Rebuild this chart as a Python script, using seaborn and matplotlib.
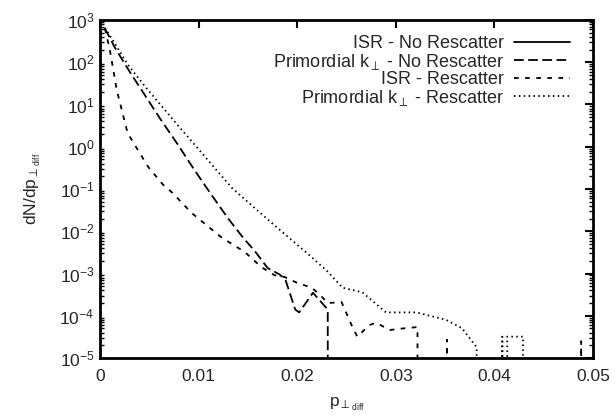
import numpy as np
import pandas as pd
import matplotlib
matplotlib.use("Agg")
import matplotlib.pyplot as plt
import seaborn as sns

# ---- data ----
labels = ["ISR - No Rescatter",
          r"Primordial k$_\perp$ - No Rescatter",
          "ISR - Rescatter",
          r"Primordial k$_\perp$ - Rescatter"]

# ISR - No Rescatter: no visible data in the reference
isr_norescat_x = []
isr_norescat_y = []

prim_norescat_x = [0.0005, 0.0015, 0.003, 0.0046, 0.006, 0.0079, 0.0095, 0.0111,
                   0.013, 0.0145, 0.0157, 0.017, 0.0182, 0.0188, 0.0198, 0.0202,
                   0.0216, 0.0231, 0.0232, 0.05]
prim_norescat_y = [630, 224, 60, 16, 5.0, 1.12, 0.30, 0.085,
                   0.020, 0.0071, 0.0034, 0.00135, 9.5e-4, 7.2e-4, 1.4e-4, 1.2e-4,
                   3.5e-4, 1.4e-4, 0, 0]

isr_rescat_x = [0.0005, 0.001, 0.0017, 0.0028, 0.0049, 0.0064, 0.0073, 0.0093,
                0.0123, 0.0147, 0.0164, 0.0177, 0.0187, 0.02, 0.0215, 0.0225,
                0.0231, 0.0245, 0.0256, 0.0261, 0.0273, 0.028, 0.0294, 0.0307,
                0.0322, 0.0323, 0.0349, 0.0352, 0.0355, 0.0485, 0.0488, 0.049, 0.05]
isr_rescat_y = [630, 195, 22, 2.1, 0.33, 0.126, 0.083, 0.027,
                0.0072, 0.0032, 0.0014, 9.1e-4, 8.3e-4, 6.0e-4, 4.6e-4, 2.8e-4,
                2.0e-4, 2.1e-4, 5.4e-5, 3.2e-5, 6.0e-5, 6.8e-5, 4.6e-5, 5.0e-5,
                5.4e-5, 0, 0, 2.7e-5, 0, 0, 2.5e-5, 0, 0]

prim_rescat_x = [0.0005, 0.0015, 0.0028, 0.0045, 0.0063, 0.008, 0.0096, 0.0116,
                 0.0134, 0.0159, 0.0184, 0.0215, 0.0231, 0.0246, 0.0266, 0.029,
                 0.0321, 0.0351, 0.0367, 0.0382, 0.0383, 0.0398, 0.0408, 0.0411,
                 0.0413, 0.0429, 0.043, 0.05]
prim_rescat_y = [650, 280, 89, 28, 8.9, 3.0, 1.12, 0.32,
                 0.105, 0.032, 0.010, 0.0024, 1.1e-3, 4.6e-4, 3.6e-4, 1.2e-4,
                 1.2e-4, 8.0e-5, 5.1e-5, 1.8e-5, 0, 0, 3.2e-5, 0,
                 3.2e-5, 3.2e-5, 0, 0]

xticks = [0, 0.01, 0.02, 0.03, 0.04, 0.05]
xticklabels = ["0", "0.01", "0.02", "0.03", "0.04", "0.05"]

# ---- style ----
sns.set_style("white")
plt.rcParams["font.family"] = ["Liberation Sans", "DejaVu Sans"]
plt.rcParams["mathtext.fontset"] = "custom"
plt.rcParams["mathtext.rm"] = "Liberation Sans"
plt.rcParams["mathtext.it"] = "Liberation Sans"
plt.rcParams["mathtext.default"] = "regular"
plt.rcParams["lines.scale_dashes"] = False

fig = plt.figure(figsize=(6.15, 4.19), dpi=100)
ax = fig.add_axes([100/615, 1-358/419, (593-100)/615, (358-20)/419])

LW = 1.3
series = [
    (isr_norescat_x, isr_norescat_y, "-"),
    (prim_norescat_x, prim_norescat_y, (0, (7, 3.2))),
    (isr_rescat_x, isr_rescat_y, (0, (3.4, 4.6))),
    (prim_rescat_x, prim_rescat_y, (0, (1.1, 2.4))),
]

ax.set_yscale("log", nonpositive="clip")
for (xs, ys, ls), lab in zip(series, labels):
    df = pd.DataFrame({"x": np.asarray(xs, float), "y": np.asarray(ys, float)})
    if len(df) == 0:
        ax.plot([], [], color="black", lw=LW, linestyle=ls, label=lab)
        continue
    sns.lineplot(data=df, x="x", y="y", ax=ax, estimator=None, sort=False,
                 color="black", lw=LW, linestyle=ls, label=lab)

ax.set_xlim(0, 0.05)
ax.set_ylim(1e-5, 1e3)
ax.set_xticks(xticks)
ax.set_xticklabels(xticklabels)
ax.set_yticks([10.0**k for k in range(-5, 4)])

ax.tick_params(axis="both", which="major", direction="in", length=6, width=1.5,
               top=True, right=True, labelsize=12.5, color="black")
ax.tick_params(axis="x", which="major", pad=8)
ax.tick_params(axis="y", which="major", pad=4)
ax.tick_params(axis="y", which="minor", direction="in", length=3, width=1.0,
               left=True, right=True, color="black")
ax.tick_params(axis="x", which="minor", bottom=False, top=False)
for s in ax.spines.values():
    s.set_linewidth(2)
    s.set_color("black")

ax.set_xlabel(r"p$_{\perp_{\mathrm{diff}}}$", fontsize=12.5, labelpad=8)
ax.set_ylabel(r"dN/dp$_{\perp_{\mathrm{diff}}}$", fontsize=12.5, labelpad=12)

leg = ax.legend(loc="upper right", markerfirst=False, frameon=False, fontsize=13,
                handlelength=3.1, handletextpad=0.55, labelspacing=-0.03,
                borderaxespad=0.0, borderpad=0.0, bbox_to_anchor=(0.953, 0.955))

fig.savefig("out.png", dpi=100)
